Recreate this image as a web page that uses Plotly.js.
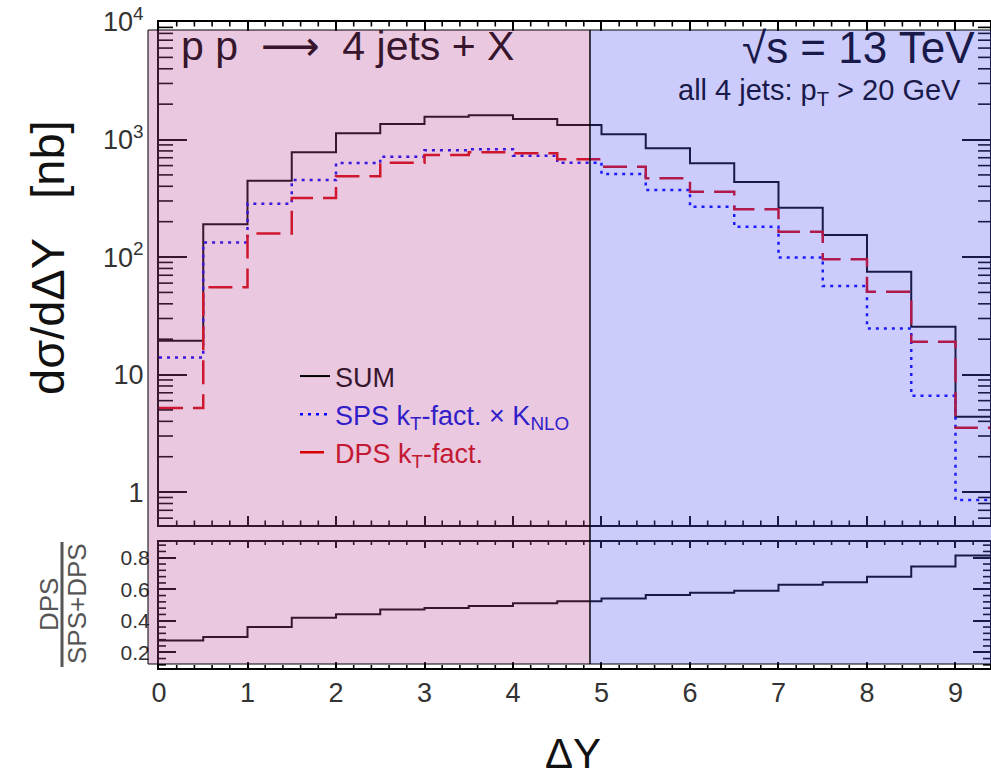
<!DOCTYPE html>
<html><head><meta charset="utf-8">
<script src="https://cdn.plot.ly/plotly-3.0.1.min.js"></script>
<style>html,body{margin:0;padding:0;background:#fff;} #chart{width:991px;height:771px;}</style>
</head><body><div id="chart"></div>
<script>
// ---- data ----
const binEdges = [0, 0.5, 1, 1.5, 2, 2.5, 3, 3.5, 4, 4.5, 5, 5.5, 6, 6.5, 7, 7.5, 8, 8.5, 9, 9.5];
const sumValues = [19.4, 190, 446, 778, 1129, 1355, 1563, 1607, 1494, 1328, 1107, 842, 627, 435, 263, 154, 75, 25.5, 4.37];
const spsValues = [14.0, 133, 284, 452, 631, 714, 809, 825, 728, 635, 508, 372, 268, 181, 99, 56.6, 24.7, 6.6, 0.855];
const dpsValues = [5.2, 55.2, 159, 318, 486, 635, 738, 778, 763, 678, 587, 468, 360, 255, 164, 96, 50.7, 19.0, 3.52];
const ratioValues = [0.275, 0.297, 0.361, 0.419, 0.442, 0.472, 0.481, 0.494, 0.511, 0.524, 0.541, 0.563, 0.577, 0.590, 0.629, 0.644, 0.680, 0.744, 0.815];
const yTickVals = [1, 10, 100, 1000, 10000];
const yTickText = ['1', '10', '10<sup>2</sup>', '10<sup>3</sup>', '10<sup>4</sup>'];
const ratioTickVals = [0.2, 0.4, 0.6, 0.8];
const ratioTickText = ['0.2', '0.4', '0.6', '0.8'];
const xTickVals = [0, 1, 2, 3, 4, 5, 6, 7, 8, 9];
const xTickText = ['0', '1', '2', '3', '4', '5', '6', '7', '8', '9'];
const legendNames = ['SUM', 'SPS k<sub>T</sub>-fact. \u00d7 K<sub>NLO</sub>', 'DPS k<sub>T</sub>-fact.'];

// ---- layout helpers ----
const W = 991, H = 771, L = 159, R = 1, T = 22, B = 103;
const pw = W - L - R, ph = H - T - B;
const px = v => (v - L) / pw;
const py = v => (H - B - v) / ph;
const stepY = arr => arr.concat([arr[arr.length - 1]]);
const FONT = 'Liberation Sans, Arial, Helvetica, sans-serif';
const XR = [0, 9.39], YR = [-0.28, 4], RR = [0.1, 0.9];
const topDom = [py(525), 1], botDom = [0, py(542)];

// minor tick positions (axis decoration only)
const minorLog = [];
for (let k = -1; k <= 3; k++) for (let m = 2; m <= 9; m++) { const v = m * Math.pow(10, k); if (Math.log10(v) > YR[0]) minorLog.push(v); }
const minorX = [];
for (let i = 1; i <= 46; i++) if (i % 5 !== 0) minorX.push(i * 0.2);
const minorR = [];
for (let i = 3; i <= 22; i++) if (i % 5 !== 0) minorR.push(i * 0.04);

const xPaper = v => (v - XR[0]) / (XR[1] - XR[0]);
const yTopPaper = v => topDom[0] + (Math.log10(v) - YR[0]) / (YR[1] - YR[0]) * (topDom[1] - topDom[0]);
const yBotPaper = v => botDom[0] + (v - RR[0]) / (RR[1] - RR[0]) * (botDom[1] - botDom[0]);
const tickShapes = [];
const tk = (x0, x1, y0, y1) => tickShapes.push({type: 'line', xref: 'paper', yref: 'paper', x0: x0, x1: x1, y0: y0, y1: y1, line: {color: '#000', width: 1.6}, layer: 'above'});
const dx = n => n / pw, dy = n => n / ph;
minorLog.forEach(v => { const y = yTopPaper(v); tk(0, dx(14), y, y); tk(1, 1 - dx(12), y, y); });
minorR.forEach(v => { const y = yBotPaper(v); tk(0, dx(7), y, y); tk(1, 1 - dx(7), y, y); });
minorX.forEach(v => { const x = xPaper(v);
  tk(x, x, topDom[0], topDom[0] + dy(4.5)); tk(x, x, topDom[1], topDom[1] - dy(4.5));
  tk(x, x, botDom[0], botDom[0] + dy(3)); tk(x, x, botDom[1], botDom[1] - dy(3)); });

const traces = [
  {x: binEdges, y: stepY(sumValues), type: 'scatter', mode: 'lines', line: {shape: 'hv', color: '#000', width: 2}, name: legendNames[0], xaxis: 'x', yaxis: 'y'},
  {x: binEdges, y: stepY(spsValues), type: 'scatter', mode: 'lines', line: {shape: 'hv', color: 'rgb(0,0,255)', width: 2.5, dash: '3px,5px'}, name: '<span style="color:rgb(50,30,200)">' + legendNames[1] + '</span>', xaxis: 'x', yaxis: 'y'},
  {x: binEdges, y: stepY(dpsValues), type: 'scatter', mode: 'lines', line: {shape: 'hv', color: 'rgb(215,0,0)', width: 2.5, dash: '24px,10px'}, name: '<span style="color:rgb(195,25,50)">' + legendNames[2] + '</span>', xaxis: 'x', yaxis: 'y'},
  {x: binEdges, y: stepY(ratioValues), type: 'scatter', mode: 'lines', line: {shape: 'hv', color: '#000', width: 2}, showlegend: false, xaxis: 'x2', yaxis: 'y2'}
];

const axCommon = {showline: true, linecolor: '#000', linewidth: 2, mirror: 'ticks', ticks: 'inside', tickcolor: '#000', showgrid: false, zeroline: false, autorange: false};

const layout = {
  width: W, height: H,
  margin: {l: L, r: R, t: T, b: B},
  paper_bgcolor: '#fff', plot_bgcolor: 'rgba(0,0,0,0)',
  font: {family: FONT, color: '#333'},
  showlegend: true,
  legend: {x: px(295), xanchor: 'left', y: py(352), yanchor: 'top', bgcolor: 'rgba(0,0,0,0)', font: {size: 27, family: FONT, color: 'rgb(55,22,45)'}, tracegroupgap: 0, itemwidth: 30},
  xaxis: Object.assign({}, axCommon, {domain: [0, 1], anchor: 'y', range: XR, tickmode: 'array', tickvals: xTickVals, showticklabels: false, ticklen: 9, tickwidth: 2}),
  yaxis: Object.assign({}, axCommon, {domain: topDom, anchor: 'x', type: 'log', range: YR, tickmode: 'array', tickvals: yTickVals, ticktext: yTickText,
    ticklen: 28, tickwidth: 2, tickfont: {size: 27, color: '#333'}, ticklabelstandoff: 8}),
  xaxis2: Object.assign({}, axCommon, {domain: [0, 1], anchor: 'y2', range: XR, tickmode: 'array', tickvals: xTickVals, ticktext: xTickText, ticklen: 6, tickwidth: 2,
    tickfont: {size: 27, color: '#333'}, ticklabelstandoff: 0}),
  yaxis2: Object.assign({}, axCommon, {domain: botDom, anchor: 'x2', range: RR, tickmode: 'array', tickvals: ratioTickVals, ticktext: ratioTickText, ticklen: 17, tickwidth: 2,
    tickfont: {size: 21, color: '#333'}, ticklabelstandoff: 3}),
  shapes: tickShapes.concat([
    {type: 'rect', xref: 'paper', yref: 'paper', x0: px(148), x1: px(590), y0: py(664), y1: py(30), fillcolor: 'rgba(185,72,152,0.3)', line: {color: '#000', width: 1}, layer: 'above'},
    {type: 'rect', xref: 'paper', yref: 'paper', x0: px(590), x1: px(992), y0: py(664), y1: py(30), fillcolor: 'rgba(85,85,245,0.3)', line: {color: '#000', width: 1}, layer: 'above'},
    {type: 'line', xref: 'paper', yref: 'paper', x0: px(62), x1: px(62), y0: py(667), y1: py(542), line: {color: '#555', width: 3}, layer: 'above'}
  ]),
  annotations: [
    {xref: 'paper', yref: 'paper', x: px(179), y: py(46), xanchor: 'left', yanchor: 'middle', showarrow: false, text: 'p p\u00a0 <span style="font-family:DejaVu Sans">\u27f6</span>\u00a0 4 jets + X', font: {size: 41, family: FONT, color: 'rgb(55,22,45)'}},
    {xref: 'paper', yref: 'paper', x: px(977), y: py(47), xanchor: 'right', yanchor: 'middle', showarrow: false, text: '\u221As = 13 TeV', font: {size: 44, family: FONT, color: 'rgb(25,25,74)'}},
    {xref: 'paper', yref: 'paper', x: px(963), y: py(92), xanchor: 'right', yanchor: 'middle', showarrow: false, text: 'all 4 jets: p<sub>T</sub> > 20 GeV', font: {size: 29, family: FONT, color: 'rgb(25,25,74)'}},
    {xref: 'paper', yref: 'paper', x: px(47), y: py(258), xanchor: 'center', yanchor: 'middle', showarrow: false, textangle: -90, text: 'd\u03c3/d\u0394Y\u00a0\u00a0 [nb]', font: {size: 47, family: FONT, color: '#111'}},
    {xref: 'paper', yref: 'paper', x: px(49), y: py(605), xanchor: 'center', yanchor: 'middle', showarrow: false, textangle: -90, text: 'DPS', font: {size: 26, family: FONT, color: '#555'}},
    {xref: 'paper', yref: 'paper', x: px(77), y: py(604), xanchor: 'center', yanchor: 'middle', showarrow: false, textangle: -90, text: 'SPS+DPS', font: {size: 26, family: FONT, color: '#555'}},
    {xref: 'paper', yref: 'paper', x: px(573), y: py(753), xanchor: 'center', yanchor: 'middle', showarrow: false, text: '\u0394Y', font: {size: 42, family: FONT, color: '#111'}}
  ]
};

Plotly.newPlot('chart', traces, layout, {displayModeBar: false, staticPlot: true});
</script>
</body></html>
